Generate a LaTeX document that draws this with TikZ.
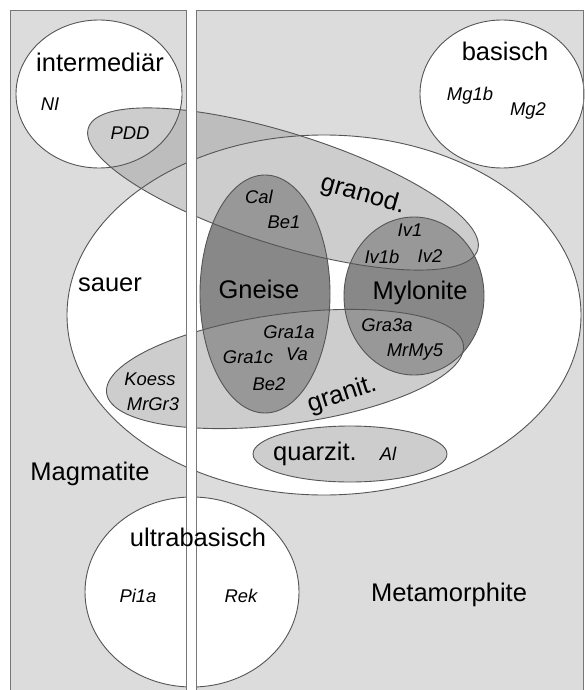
\documentclass[tikz,border=0pt]{standalone}
\usepackage{fontspec}
\setmainfont{Liberation Sans}
\usepackage{tikz}

\definecolor{hintergrund}{RGB}{220,220,220}
\definecolor{dunkel}{RGB}{136,136,136}
\definecolor{mittel}{RGB}{166,166,166}
\definecolor{rand}{RGB}{85,85,85}

% Umrisse der Gesteinsgruppen
\newcommand{\formIntermediaer}{(99,94) ellipse [x radius=83pt, y radius=74pt]}
\newcommand{\formBasisch}{(502,94) ellipse [x radius=82pt, y radius=74pt]}
\newcommand{\formSauer}{(324,315) ellipse [x radius=257pt, y radius=180pt]}
\newcommand{\formUltra}{(192,592) ellipse [x radius=107pt, y radius=95pt]}
\newcommand{\formGneise}{(265,294) ellipse [x radius=65pt, y radius=119pt]}
\newcommand{\formMylonite}{(414,296) ellipse [x radius=70pt, y radius=79pt]}
\newcommand{\formGranod}{(283,189) ellipse [x radius=204pt, y radius=56pt, rotate=-17.4]}
\newcommand{\formGranit}{(285,369) ellipse [x radius=180pt, y radius=55pt, rotate=7.7]}
\newcommand{\formQuarzit}{(350,454) ellipse [x radius=97pt, y radius=28pt]}

\begin{document}
\begin{tikzpicture}[x=1pt,y=-1pt]
  \tikzstyle{bereich}=[fill=hintergrund]
  \tikzstyle{hell}=[fill=white]
  \tikzstyle{kern}=[fill=dunkel]
  \tikzstyle{gestein}=[fill=mittel,fill opacity=0.56]
  \tikzstyle{linie}=[draw=rand,line width=0.9pt]
  \tikzstyle{gross}=[font=\fontsize{25.5}{28}\selectfont,inner sep=0pt,text height=0.72em,text depth=0pt]
  \tikzstyle{probe}=[font=\fontsize{18.4}{20}\selectfont\itshape,inner sep=0pt,text height=0.72em,text depth=0pt]

  \useasboundingbox (0,0) rectangle (585,690);
  \clip (0,0) rectangle (585,690);
  \fill[white] (0,0) rectangle (585,690);

  % Magmatite / Metamorphite
  \path[bereich] (10,10) rectangle (186,700);
  \path[bereich] (196,10) rectangle (583,700);

  % Flaechen
  \foreach \form in {\formIntermediaer,\formBasisch,\formSauer,\formUltra}
    \path[hell] \form;
  \foreach \form in {\formGneise,\formMylonite}
    \path[kern] \form;
  \foreach \form in {\formGranod,\formGranit,\formQuarzit}
    \path[gestein] \form;

  % Umrisse
  \foreach \form in {\formIntermediaer,\formBasisch,\formSauer,\formUltra,
      \formGneise,\formMylonite,\formGranod,\formGranit,\formQuarzit}
    \draw[linie] \form;

  % Trennstreifen
  \fill[white] (186,0) rectangle (196,690);
  \draw[rand!80,line width=0.9pt] (10,700) |- (186,10) -- (186,700);
  \draw[rand!80,line width=0.9pt] (196,700) |- (583,10) -- (583,700);

  % Gruppen
  \node[gross] (intermediaer) at (100,68) {intermediär};
  \node[gross] (basisch) at (505,57) {basisch};
  \node[gross] (sauer) at (110,288) {sauer};
  \node[gross] (gneise) at (259,295) {Gneise};
  \node[gross] (mylonite) at (420,296) {Mylonite};
  \node[gross] (quarzit) at (315,457) {quarzit.};
  \node[gross] (magmatite) at (90,477) {Magmatite};
  \node[gross] (ultra) at (198,543) {ultrabasisch};
  \node[gross] (metamorphite) at (449,598) {Metamorphite};
  \node[gross,rotate=-16] (granod) at (362,198) {granod.};
  \node[gross,rotate=18] (granit) at (343,398) {granit.};

  % Proben
  \foreach \name/\x/\y in {NI/50/107, PDD/130/136, Mg1b/470/97, Mg2/528/112,
      Cal/259/200, Be1/284/225, Iv1/410/233, Iv1b/382/260, Iv2/430/259,
      Gra1a/289/335, Va/297/357, Gra1c/248/360, Be2/269/387, Gra3a/387/328,
      MrMy5/415/353, Koess/150/382, MrGr3/153/407, Al/388/457,
      Pi1a/138/599, Rek/241/599}
    \node[probe] (p-\name) at (\x,\y) {\name};
\end{tikzpicture}
\end{document}
